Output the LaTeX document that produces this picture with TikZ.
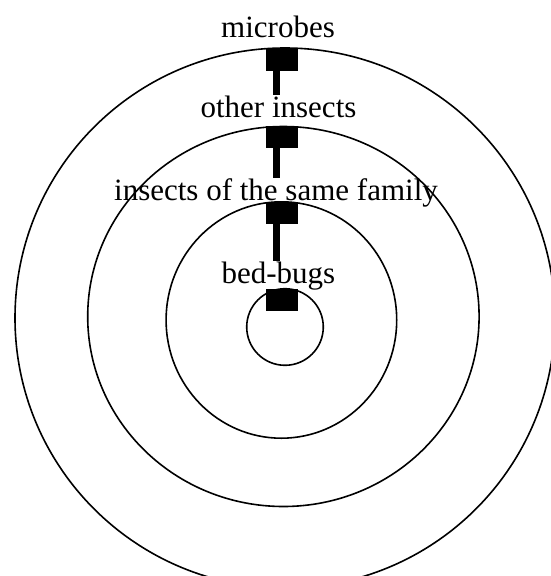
\documentclass[tikz,border=0pt]{standalone}
\usepackage{fontspec}
\setmainfont{Liberation Serif}
\begin{document}
\begin{tikzpicture}[
  x=1pt, y=-1pt,
  ring/.style={draw, line width=1.6pt},
  tag/.style={anchor=base, inner sep=0pt, font=\fontsize{31}{36}\selectfont},
  plug/.style={fill=black, minimum width=32pt, minimum height=22pt, inner sep=0pt, anchor=north},
  stem/.style={line width=7pt},
]
  \useasboundingbox (0,0) rectangle (551,576);
  \clip (0,0) rectangle (551,576);

  % rings, outermost first
  \draw[ring] (285,318) circle (270);
  \draw[ring] (283.4,316.5) ellipse [x radius=195.7, y radius=190];
  \draw[ring] (281.4,320) ellipse [x radius=115.3, y radius=118.2];
  \draw[ring] (285,327) circle (38.3);

  % labels
  \node[tag] (microbes) at (278,37) {microbes};
  \node[tag] (insects) at (278.5,117) {other insects};
  \node[tag] (family) at (276,200) {insects of the same family};
  \node[tag] (bedbugs) at (278.4,283) {bed-bugs};

  % plugs on top of each ring
  \node[plug] (pMicrobes) at (282,49) {};
  \node[plug] (pInsects) at (282,126) {};
  \node[plug] (pFamily) at (282,202) {};
  \node[plug] (pBedbugs) at (282,288.5) {};

  \coordinate (axis) at (276.5,0);
  \draw[stem] (pMicrobes.south -| axis) -- (insects.north -| axis);
  \draw[stem] (pInsects.south -| axis) -- (family.north -| axis);
  \draw[stem] (pFamily.south -| axis) -- (bedbugs.north -| axis);
\end{tikzpicture}
\end{document}
